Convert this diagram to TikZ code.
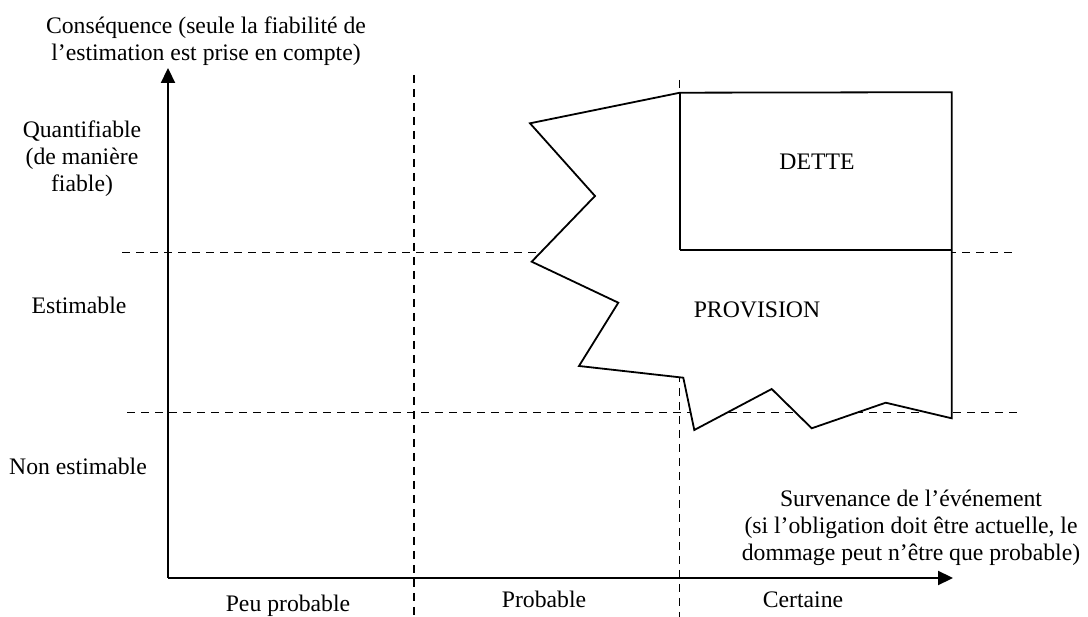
\documentclass[tikz,border=0pt]{standalone}
\usepackage{fontspec}
\setmainfont{Liberation Serif}
\usetikzlibrary{arrows.meta}
\begin{document}
\begin{tikzpicture}[x=1pt,y=-1pt,
  lbl/.style={inner sep=0pt, align=center, font=\fontsize{23.7}{27}\selectfont, anchor=base},
  gridline/.style={dash pattern=on 8pt off 6pt, line width=1.9pt},
  axis/.style={line width=2.2pt, -{Triangle[length=15pt,width=14pt]}},
  outline/.style={line width=1.8pt, line join=miter}]
\useasboundingbox (0,0) rectangle (1088,617);
% coordinates
\coordinate (O) at (168,578);
\coordinate (ytip) at (168,68);
\coordinate (xtip) at (953,578);
\coordinate (h1a) at (122,252.5);
\coordinate (h1b) at (1015,252.5);
\coordinate (h2a) at (127,412.5);
\coordinate (h2b) at (1020,412.5);
\coordinate (v1a) at (414,75);
\coordinate (v1b) at (414,617);
\coordinate (v2a) at (679.5,80);
\coordinate (v2b) at (679.5,617);
% grid
\draw[gridline] (h1a) -- (h1b);
\draw[gridline] (h2a) -- (h2b);
\draw[gridline] (v1a) -- (v1b);
\draw[gridline] (v2a) -- (v2b);
% axes
\draw[axis] (O) -- (ytip);
\draw[axis] (O) -- (xtip);
% provision shape
\draw[outline, fill=white] (680,92.7) -- (530,123.3) -- (595,196) -- (531.7,261.7)
  -- (618.3,302.7) -- (579,366) -- (683.3,377.7) -- (694.3,430) -- (771.7,389)
  -- (811.7,428.3) -- (885.7,402.7) -- (951.7,418.3) -- (951.7,92.2) -- cycle;
% dette box
\coordinate (dtl) at (680,92.2);
\coordinate (dbl) at (680,250);
\coordinate (dbr) at (951.7,250);
\draw[outline] (dbl) -- (dbr);
\draw[line width=2.8pt] (dtl) -- (dbl);
% texts (multi-line nodes: base anchor is the last line's baseline)
\node[lbl] (dette) at (817,170) {DETTE};
\node[lbl] (prov) at (757,318) {PROVISION};
\node[lbl] (cons) at (206,61) {Conséquence (seule la fiabilité de\\l’estimation est prise en compte)};
\node[lbl] (quant) at (82,192) {Quantifiable\\(de manière\\fiable)};
\node[lbl] (estim) at (79,314) {Estimable};
\node[lbl] (nonest) at (78,475) {Non estimable};
\node[lbl] (surv) at (911,561) {Survenance de l’événement\\(si l’obligation doit être actuelle, le\\dommage peut n’être que probable)};
\node[lbl] (peu) at (288,612) {Peu probable};
\node[lbl] (prob) at (544,607) {Probable};
\node[lbl] (cert) at (803,607) {Certaine};
\end{tikzpicture}
\end{document}
